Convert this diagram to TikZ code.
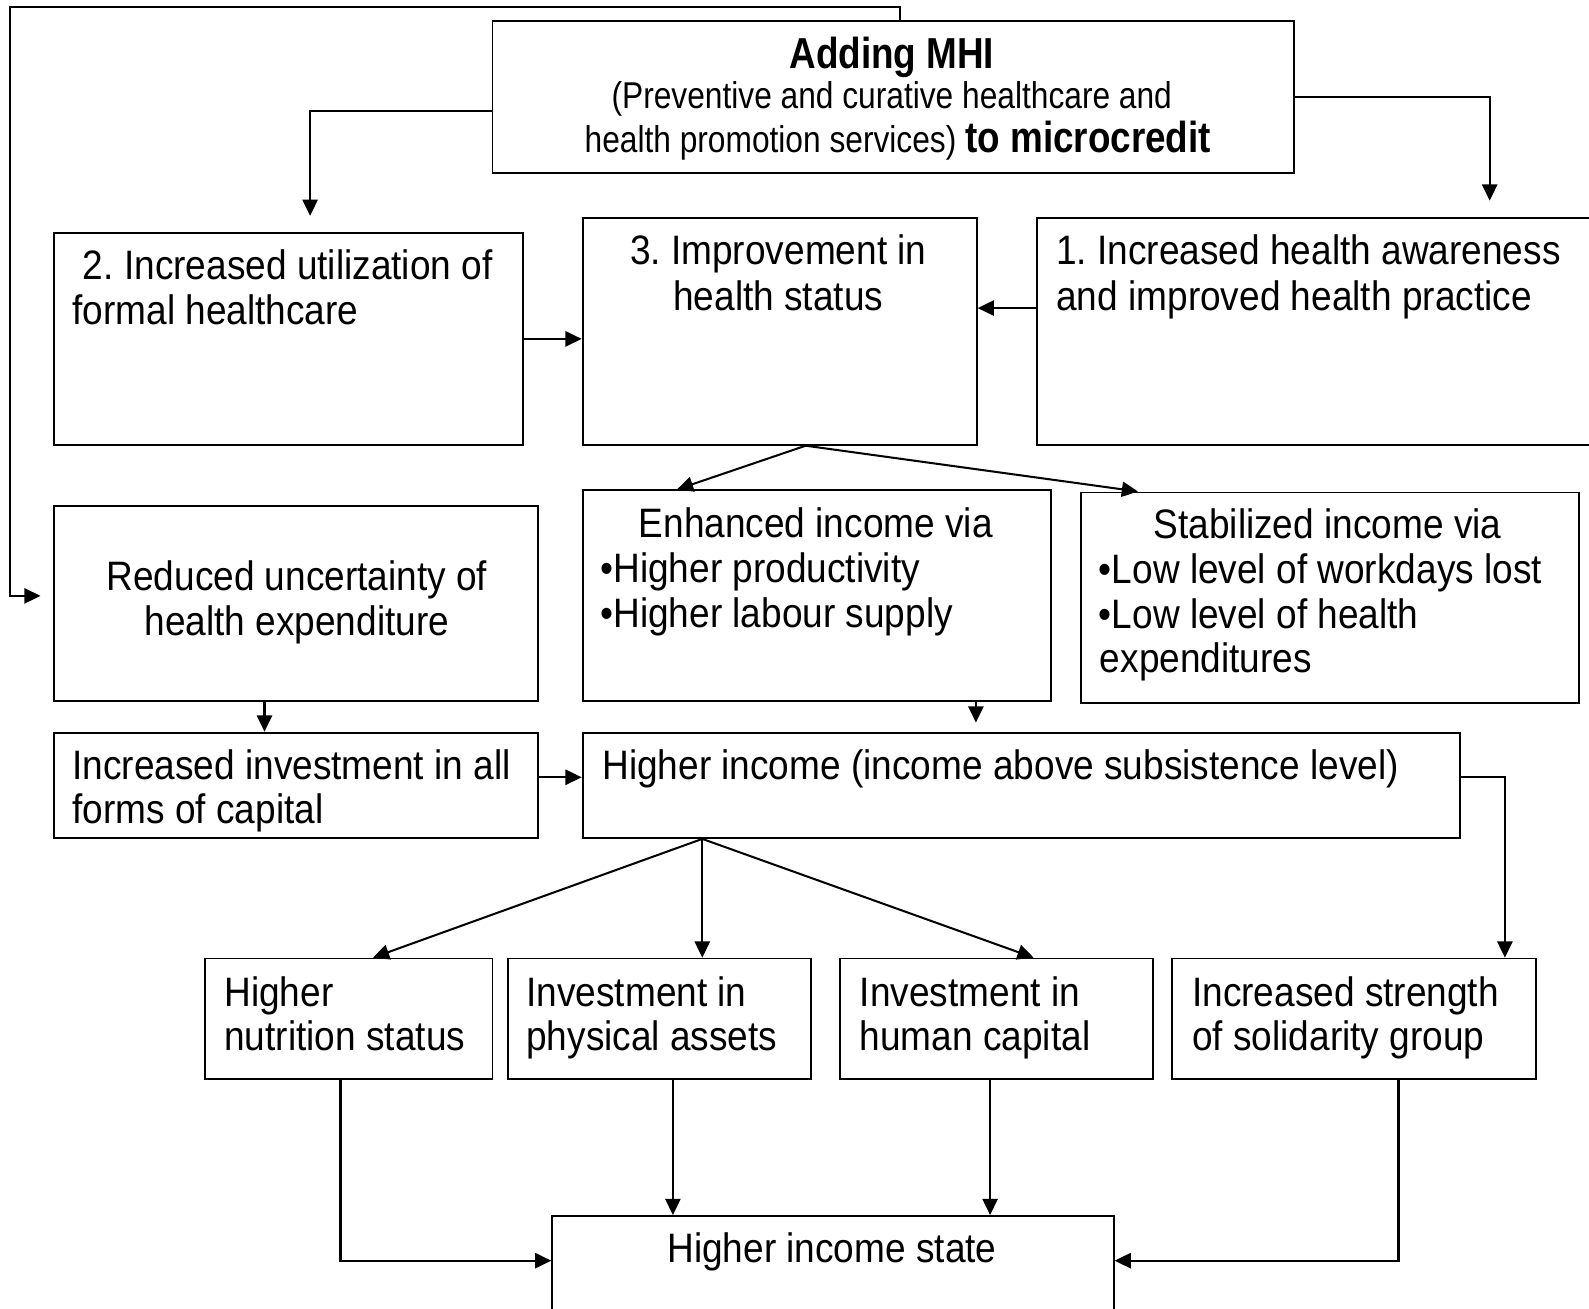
\documentclass[tikz,border=0pt]{standalone}
\usepackage{fontspec}
\setmainfont{Liberation Sans}[FakeStretch=0.9]
\newfontfamily\mhifont{Liberation Sans}[FakeStretch=0.85]
\usetikzlibrary{arrows.meta}
\frenchspacing
\begin{document}
\begin{tikzpicture}[x=0.5pt,y=-0.5pt,
  box/.style={draw, line width=0.9pt, rectangle, inner sep=0pt, anchor=north west},
  conn/.style={line width=1pt, -{Triangle[length=8pt,width=7.5pt]}},
  txt/.style={inner sep=0pt, font=\frenchspacing\fontsize{20.3pt}{22pt}\selectfont},
  mhit/.style={inner sep=0pt, font=\mhifont\fontsize{18.4pt}{21pt}\selectfont},
  mhib/.style={inner sep=0pt, font=\mhifont\bfseries\fontsize{21.4pt}{21pt}\selectfont}
]
\useasboundingbox (0,0) rectangle (1568,1291);
\clip (0,0) rectangle (1568,1291);

% boxes
\node[box, minimum width=395.5pt, minimum height=75pt] (mhi) at (485,20) {};
\node[box, minimum width=231.5pt, minimum height=104.5pt] (b2) at (52,229) {};
\node[box, minimum width=194.5pt, minimum height=112pt] (b3) at (574,214) {};
\node[box, minimum width=300pt, minimum height=112pt] (b1) at (1022,214) {};
\node[box, minimum width=239pt, minimum height=96.5pt] (red) at (52,498) {};
\node[box, minimum width=231pt, minimum height=104pt] (enh) at (574,483) {};
\node[box, minimum width=245.5pt, minimum height=104pt] (stab) at (1066,485) {};
\node[box, minimum width=239pt, minimum height=52pt] (inv) at (52,722) {};
\node[box, minimum width=433pt, minimum height=52pt] (hi) at (574,722) {};
\node[box, minimum width=142pt, minimum height=59.5pt] (nut) at (201,945) {};
\node[box, minimum width=149.5pt, minimum height=59.5pt] (phys) at (500,945) {};
\node[box, minimum width=154.5pt, minimum height=59.5pt] (hum) at (828,945) {};
\node[box, minimum width=179.5pt, minimum height=59.5pt] (sol) at (1156,945) {};
\node[box, minimum width=277pt, minimum height=75pt] (his) at (544,1199) {};

% texts
\node[mhib, anchor=base] (m1) at (880,68) {Adding MHI};
\node[mhit, anchor=base] (m2) at (880,107) {(Preventive and curative healthcare and};
\node[mhit, anchor=base] (m3) at (886,150) {health promotion services) {\bfseries\fontsize{21.4pt}{21pt}\selectfont to microcredit}};

\node[txt, anchor=base] (t2a) at (284,276) {2. Increased utilization of};
\node[txt, anchor=base west] (t2b) at (71,320) {formal healthcare};
\node[txt, anchor=base] (t3a) at (768,261) {3. Improvement in};
\node[txt, anchor=base] (t3b) at (768,306) {health status};
\node[txt, anchor=base west] (t1a) at (1042,261) {1. Increased health awareness};
\node[txt, anchor=base west] (t1b) at (1042,306) {and improved health practice};

\node[txt, anchor=base] (tra) at (293,583) {Reduced uncertainty of};
\node[txt, anchor=base] (trb) at (293,627) {health expenditure};
\node[txt, anchor=base] (tea) at (805,530) {Enhanced income via};
\node[txt, anchor=base west] (teb) at (592,575) {•Higher productivity};
\node[txt, anchor=base west] (tec) at (592,619) {•Higher labour supply};
\node[txt, anchor=base] (tsa) at (1310,531) {Stabilized income via};
\node[txt, anchor=base west] (tsb) at (1084,576) {•Low level of workdays lost};
\node[txt, anchor=base west] (tsc) at (1084,620) {•Low level of health};
\node[txt, anchor=base west] (tsd) at (1085,664) {expenditures};

\node[txt, anchor=base west] (tia) at (71,769) {Increased investment in all};
\node[txt, anchor=base west] (tib) at (71,813) {forms of capital};
\node[txt, anchor=base west] (tha) at (594,769) {Higher income (income above subsistence level)};

\node[txt, anchor=base west] (tna) at (221,993) {Higher};
\node[txt, anchor=base west] (tnb) at (221,1037) {nutrition status};
\node[txt, anchor=base west] (tpa) at (519,993) {Investment in};
\node[txt, anchor=base west] (tpb) at (519,1037) {physical assets};
\node[txt, anchor=base west] (tua) at (848,993) {Investment in};
\node[txt, anchor=base west] (tub) at (848,1037) {human capital};
\node[txt, anchor=base west] (toa) at (1176,993) {Increased strength};
\node[txt, anchor=base west] (tob) at (1176,1037) {of solidarity group};
\node[txt, anchor=base] (tha2) at (821,1246) {Higher income state};

% helper coordinates
\coordinate (fbx) at (888,7);
\coordinate (fbl) at (10,7);
\coordinate (fbe) at (40,588);
\coordinate (l1) at (485,110);
\coordinate (l2) at (306,110);
\coordinate (l3) at (306,213);
\coordinate (r1) at (1470,95);
\coordinate (r2) at (1470,198);
\coordinate (c13) at (0,304);
\coordinate (ap3) at (795,0);
\coordinate (e1) at (668,0);
\coordinate (e2) at (1123,0);
\coordinate (t1) at (963,713);
\coordinate (x261) at (261,0);
\coordinate (y767) at (0,767);
\coordinate (x1485) at (1485,0);
\coordinate (x693) at (693,0);
\coordinate (x368) at (368,0);
\coordinate (x1020) at (1020,0);
\coordinate (y1244) at (0,1244);
\coordinate (x336) at (336,0);
\coordinate (x664) at (664,0);
\coordinate (x977) at (977,0);
\coordinate (x1380) at (1380,0);

% connectors
\draw[conn] (mhi.north -| fbx) -- (fbx) -- (fbl) -- (fbl |- fbe) -- (fbe);
\draw[conn] (mhi.west |- l1) -- (l2) -- (l3);
\draw[conn] (mhi.east) -- (mhi.east -| r1) -- (r2);
\draw[conn] (b2.east) -- (b2.east -| b3.west);
\draw[conn] (b1.west |- c13) -- (b3.east |- c13);
\draw[conn] (b3.south -| ap3) -- (enh.north -| e1);
\draw[conn] (b3.south -| ap3) -- (stab.north -| e2);
\draw[conn] (enh.south -| t1) -- (t1);
\draw[conn] (red.south -| x261) -- (inv.north -| x261);
\draw[conn] (inv.east |- y767) -- (hi.west |- y767);
\draw[conn] (hi.east |- y767) -- (x1485 |- y767) -- (sol.north -| x1485);
\draw[conn] (hi.south -| x693) -- (nut.north -| x368);
\draw[conn] (hi.south -| x693) -- (phys.north -| x693);
\draw[conn] (hi.south -| x693) -- (hum.north -| x1020);
\draw[conn] (nut.south -| x336) -- (x336 |- y1244) -- (his.west |- y1244);
\draw[conn] (phys.south -| x664) -- (his.north -| x664);
\draw[conn] (hum.south -| x977) -- (his.north -| x977);
\draw[conn] (sol.south -| x1380) -- (x1380 |- y1244) -- (his.east |- y1244);
\end{tikzpicture}
\end{document}
